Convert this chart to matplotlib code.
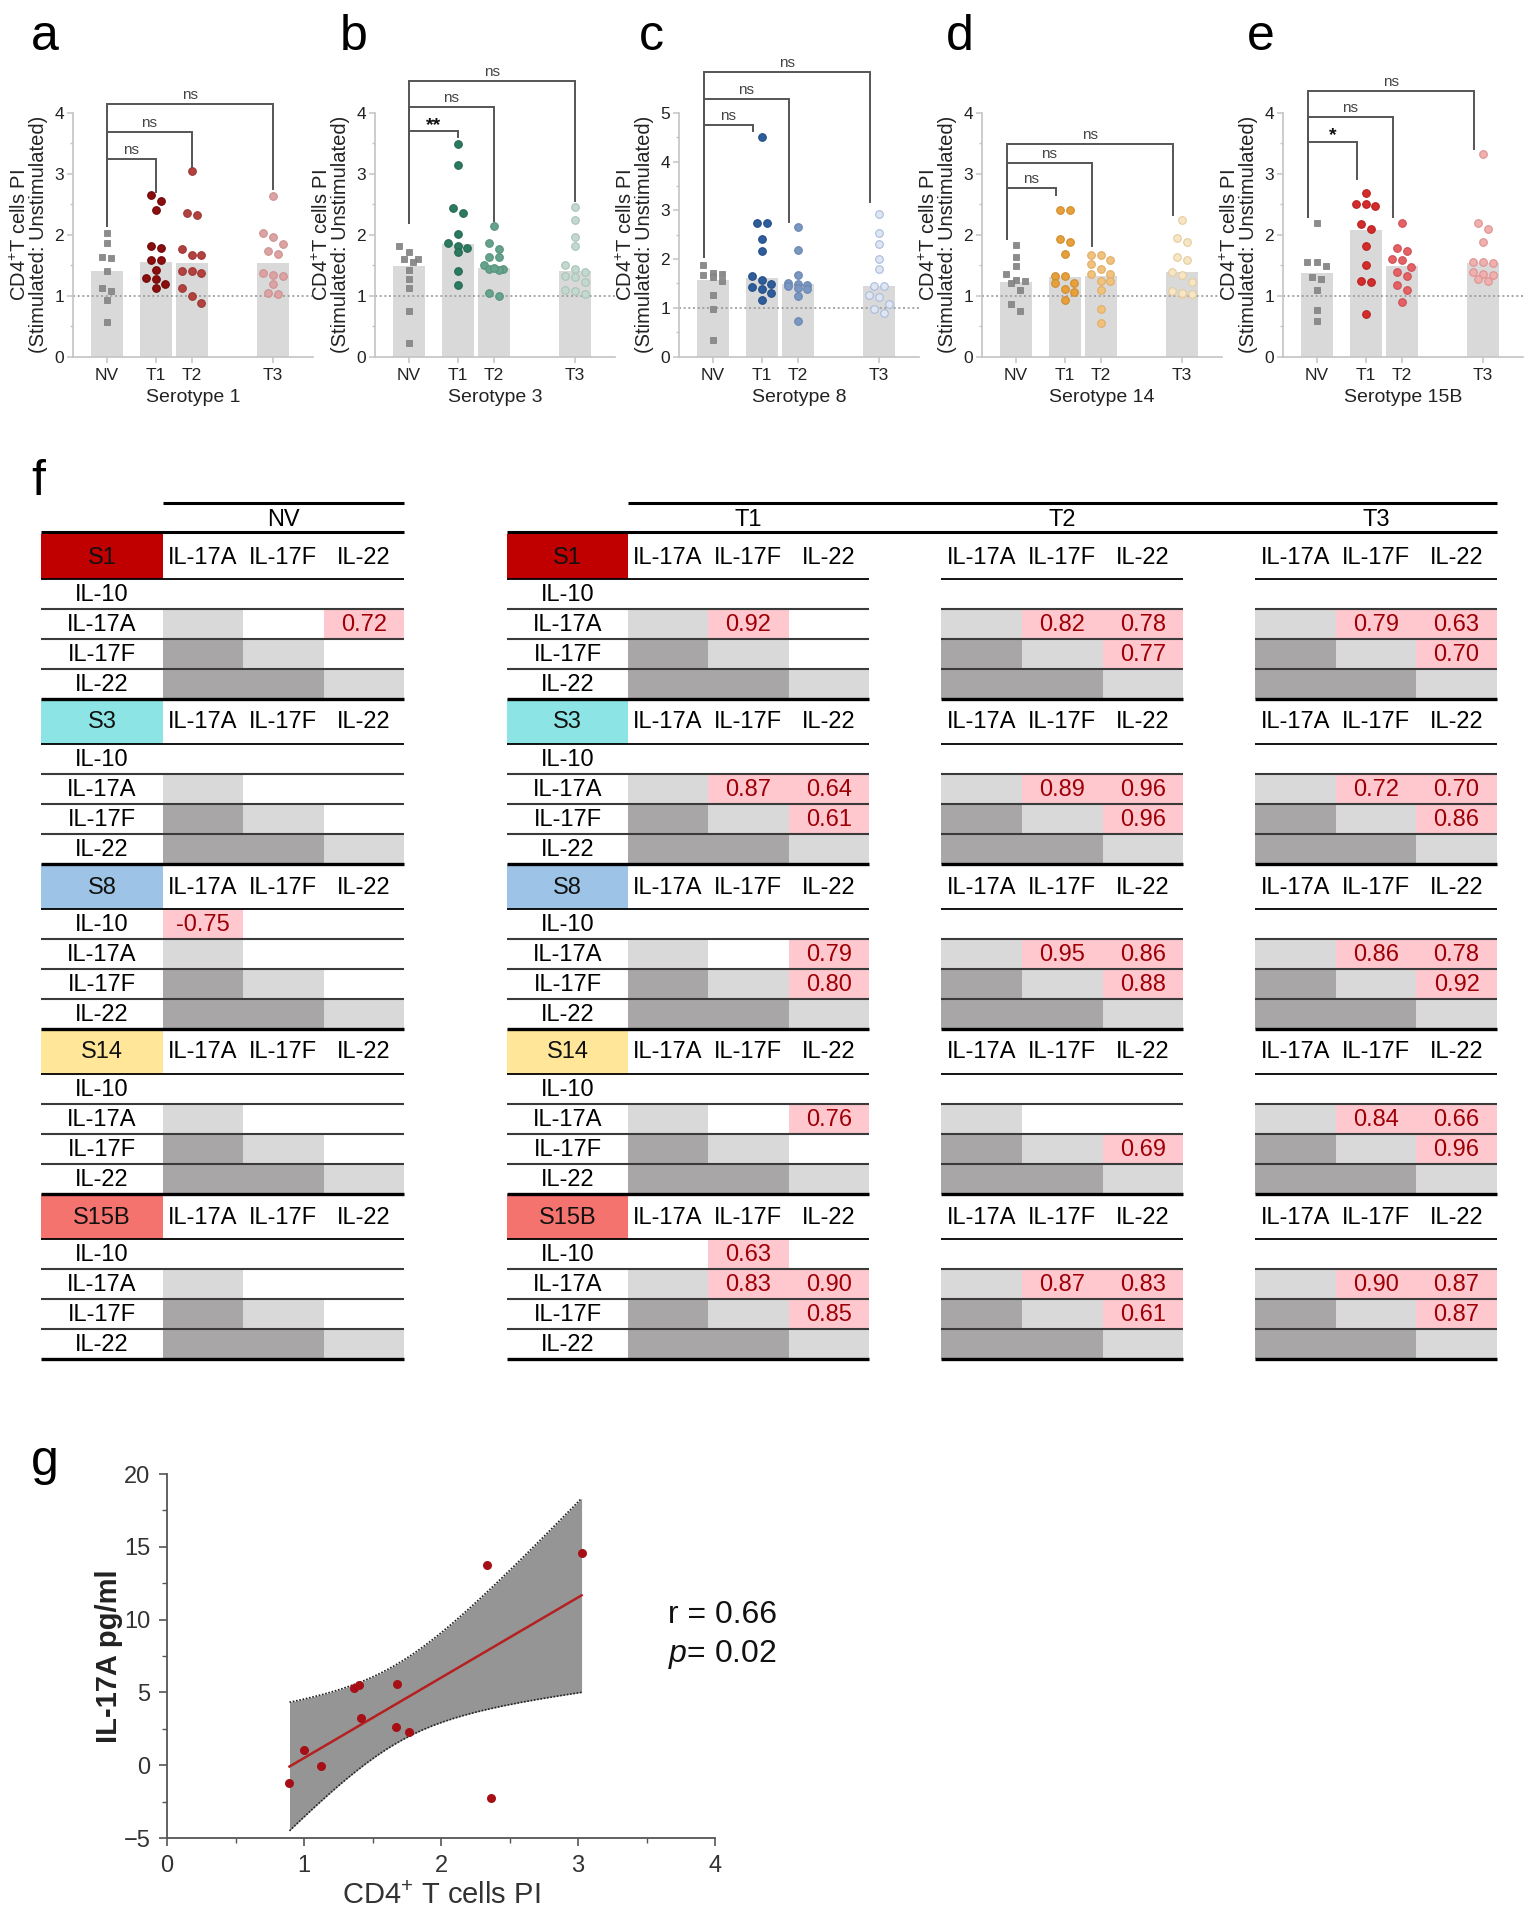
import numpy as np
import matplotlib
matplotlib.use('Agg')
import matplotlib.pyplot as plt
from matplotlib.patches import Rectangle
from matplotlib.ticker import MultipleLocator

plt.rcParams['font.family'] = ['Liberation Sans', 'DejaVu Sans']
plt.rcParams['mathtext.fontset'] = 'custom'
plt.rcParams['mathtext.rm'] = 'Liberation Sans'
plt.rcParams['mathtext.it'] = 'Liberation Sans:italic'
plt.rcParams['mathtext.bf'] = 'Liberation Sans:bold'

# ---------------- data: panels a-e ----------------
groups = ['NV', 'T1', 'T2', 'T3']
group_pos = [0.0, 1.23, 2.13, 4.16]

s1_NV = [2.03, 1.87, 1.64, 1.61, 1.41, 1.12, 1.08, 0.93, 0.56]
s1_T1 = [2.66, 2.55, 2.41, 1.82, 1.79, 1.58, 1.58, 1.42, 1.29, 1.27, 1.19, 1.12]
s1_T2 = [3.04, 2.36, 2.33, 1.77, 1.67, 1.67, 1.40, 1.37, 1.40, 1.12, 1.00, 0.88]
s1_T3 = [2.63, 2.03, 1.96, 1.84, 1.73, 1.68, 1.37, 1.33, 1.34, 1.19, 1.03, 1.04]
s1_bar = [1.40, 1.56, 1.53, 1.53]

s3_NV = [1.82, 1.72, 1.60, 1.60, 1.56, 1.42, 1.28, 1.12, 0.75, 0.22]
s3_T1 = [3.49, 3.15, 2.44, 2.35, 2.02, 1.87, 1.81, 1.79, 1.72, 1.40, 1.17]
s3_T2 = [2.15, 1.87, 1.77, 1.63, 1.63, 1.50, 1.44, 1.42, 1.44, 1.46, 1.05, 1.00]
s3_T3 = [2.45, 2.25, 1.96, 1.82, 1.50, 1.43, 1.38, 1.32, 1.30, 1.22, 1.10, 1.08, 1.03]
s3_bar = [1.48, 1.85, 1.45, 1.40]

s8_NV = [1.87, 1.72, 1.70, 1.68, 1.63, 1.55, 1.27, 0.97, 0.33]
s8_T1 = [4.50, 2.74, 2.74, 2.42, 2.16, 1.65, 1.57, 1.48, 1.42, 1.38, 1.30, 1.16]
s8_T2 = [2.65, 2.18, 1.68, 1.50, 1.47, 1.45, 1.49, 1.40, 1.38, 1.25, 0.72]
s8_T3 = [2.92, 2.53, 2.32, 2.00, 1.79, 1.45, 1.45, 1.27, 1.22, 1.07, 0.98, 0.90]
s8_bar = [1.58, 1.62, 1.48, 1.45]

s14_NV = [1.83, 1.63, 1.49, 1.36, 1.25, 1.24, 1.20, 1.10, 0.86, 0.74]
s14_T1 = [2.40, 2.40, 1.93, 1.88, 1.69, 1.33, 1.32, 1.21, 1.21, 1.11, 1.06, 0.93]
s14_T2 = [1.67, 1.67, 1.59, 1.52, 1.44, 1.35, 1.35, 1.24, 1.24, 1.10, 0.78, 0.55]
s14_T3 = [2.24, 1.94, 1.88, 1.63, 1.59, 1.38, 1.34, 1.22, 1.08, 1.02, 1.02, 1.05]
s14_bar = [1.23, 1.30, 1.33, 1.38]

s15_NV = [2.19, 1.55, 1.55, 1.49, 1.30, 1.28, 1.10, 0.76, 0.59]
s15_T1 = [2.68, 2.50, 2.47, 2.50, 2.18, 2.10, 1.82, 1.50, 1.24, 1.22, 0.70]
s15_T2 = [2.19, 1.78, 1.74, 1.60, 1.58, 1.47, 1.38, 1.33, 1.18, 1.09, 0.89]
s15_T3 = [3.32, 2.19, 2.10, 1.88, 1.56, 1.56, 1.54, 1.38, 1.36, 1.34, 1.28, 1.24]
s15_bar = [1.37, 2.08, 1.48, 1.53]

# brackets: (target group index, bracket height, right-leg bottom, label)
s1_brackets = [(1, 3.24, 2.70, 'ns'), (2, 3.68, 3.12, 'ns'), (3, 4.14, 2.75, 'ns')]
s3_brackets = [(1, 3.70, 3.60, '**'), (2, 4.10, 2.23, 'ns'), (3, 4.53, 2.56, 'ns')]
s8_brackets = [(1, 4.75, 4.64, 'ns'), (2, 5.29, 2.76, 'ns'), (3, 5.84, 3.17, 'ns')]
s14_brackets = [(1, 2.77, 2.66, 'ns'), (2, 3.18, 1.81, 'ns'), (3, 3.49, 2.33, 'ns')]
s15_brackets = [(1, 3.53, 2.92, '*'), (2, 3.93, 2.29, 'ns'), (3, 4.36, 3.41, 'ns')]
left_leg_bottom = [2.15, 2.20, 2.04, 1.93, 2.29]

serotype_names = ['Serotype 1', 'Serotype 3', 'Serotype 8', 'Serotype 14', 'Serotype 15B']
y_max = [4, 4, 5, 4, 4]

face_colors = [
    ['#8c8c8c', '#8b0d0d', '#b2423f', '#dba3a3'],
    ['#8c8c8c', '#2d7a60', '#66a38c', '#c3d8cf'],
    ['#8c8c8c', '#2e5d9c', '#7a97c2', '#dfe6f2'],
    ['#8c8c8c', '#e6a03c', '#f0c27e', '#f6e6c6'],
    ['#8c8c8c', '#d42b2b', '#e46266', '#efb0b0'],
]
edge_colors = [
    ['#7a7a7a', '#6e0808', '#9e3532', '#cf9090'],
    ['#7a7a7a', '#246a52', '#58927c', '#a9c4b8'],
    ['#7a7a7a', '#244d86', '#6885b2', '#a9bcdc'],
    ['#7a7a7a', '#d08c2c', '#e0ad66', '#e6cc9a'],
    ['#7a7a7a', '#b82020', '#cf5055', '#e09090'],
]

panels = [
    (s1_NV, s1_T1, s1_T2, s1_T3, s1_bar, s1_brackets),
    (s3_NV, s3_T1, s3_T2, s3_T3, s3_bar, s3_brackets),
    (s8_NV, s8_T1, s8_T2, s8_T3, s8_bar, s8_brackets),
    (s14_NV, s14_T1, s14_T2, s14_T3, s14_bar, s14_brackets),
    (s15_NV, s15_T1, s15_T2, s15_T3, s15_bar, s15_brackets),
]
bracket_shift = [0.0, 0.0, -0.22, -0.22, -0.22]

# ---------------- data: panel f ----------------
serotypes = ['S1', 'S3', 'S8', 'S14', 'S15B']
serotype_colors = ['#c00000', '#8de4e4', '#9dc3e6', '#ffe699', '#f4736e']
col_cytokines = ['IL-17A', 'IL-17F', 'IL-22']
row_cytokines = ['IL-10', 'IL-17A', 'IL-17F', 'IL-22']

corr_NV = {'S1': [('IL-17A', 'IL-22', 0.72)], 'S3': [],
           'S8': [('IL-10', 'IL-17A', -0.75)], 'S14': [], 'S15B': []}
corr_T1 = {'S1': [('IL-17A', 'IL-17F', 0.92)],
           'S3': [('IL-17A', 'IL-17F', 0.87), ('IL-17A', 'IL-22', 0.64), ('IL-17F', 'IL-22', 0.61)],
           'S8': [('IL-17A', 'IL-22', 0.79), ('IL-17F', 'IL-22', 0.80)],
           'S14': [('IL-17A', 'IL-22', 0.76)],
           'S15B': [('IL-10', 'IL-17F', 0.63), ('IL-17A', 'IL-17F', 0.83),
                    ('IL-17A', 'IL-22', 0.90), ('IL-17F', 'IL-22', 0.85)]}
corr_T2 = {'S1': [('IL-17A', 'IL-17F', 0.82), ('IL-17A', 'IL-22', 0.78), ('IL-17F', 'IL-22', 0.77)],
           'S3': [('IL-17A', 'IL-17F', 0.89), ('IL-17A', 'IL-22', 0.96), ('IL-17F', 'IL-22', 0.96)],
           'S8': [('IL-17A', 'IL-17F', 0.95), ('IL-17A', 'IL-22', 0.86), ('IL-17F', 'IL-22', 0.88)],
           'S14': [('IL-17F', 'IL-22', 0.69)],
           'S15B': [('IL-17A', 'IL-17F', 0.87), ('IL-17A', 'IL-22', 0.83), ('IL-17F', 'IL-22', 0.61)]}
corr_T3 = {'S1': [('IL-17A', 'IL-17F', 0.79), ('IL-17A', 'IL-22', 0.63), ('IL-17F', 'IL-22', 0.70)],
           'S3': [('IL-17A', 'IL-17F', 0.72), ('IL-17A', 'IL-22', 0.70), ('IL-17F', 'IL-22', 0.86)],
           'S8': [('IL-17A', 'IL-17F', 0.86), ('IL-17A', 'IL-22', 0.78), ('IL-17F', 'IL-22', 0.92)],
           'S14': [('IL-17A', 'IL-17F', 0.84), ('IL-17A', 'IL-22', 0.66), ('IL-17F', 'IL-22', 0.96)],
           'S15B': [('IL-17A', 'IL-17F', 0.90), ('IL-17A', 'IL-22', 0.87), ('IL-17F', 'IL-22', 0.87)]}
corr_tables = {'NV': corr_NV, 'T1': corr_T1, 'T2': corr_T2, 'T3': corr_T3}

# ---------------- data: panel g ----------------
g_x = [0.894, 1.00, 1.127, 1.368, 1.40, 1.413, 1.677, 1.673, 1.769, 2.334, 2.365, 3.026]
g_y = [-1.22, 1.01, -0.03, 5.28, 5.50, 3.21, 5.55, 2.61, 2.29, 13.72, -2.22, 14.59]
g_r_text = 'r = 0.66'
g_p_text = '$\\it{p}$= 0.02'

# ---------------- figure ----------------
W, H = 1535, 1917
fig = plt.figure(figsize=(W / 100, H / 100), dpi=100)
fig.patch.set_facecolor('white')


def fx(px):
    return px / W


def fy(py):
    return 1 - py / H


def swarm_offsets(vals, ypx, thr=7.5, step=0.24, maxk=3):
    vals = np.asarray(vals, float)
    order = np.argsort(-vals, kind='stable')
    offs = np.zeros(len(vals))
    clusters = []
    cur = [order[0]]
    for i in order[1:]:
        if abs(vals[i] - vals[cur[-1]]) * ypx < thr and len(cur) < maxk:
            cur.append(i)
        else:
            clusters.append(cur)
            cur = [i]
    clusters.append(cur)
    for cl in clusters:
        k = len(cl)
        for j, idx in enumerate(cl):
            offs[idx] = (j - (k - 1) / 2) * step
    return offs


# ---------- panel f table (drawn first, underneath) ----------
tab = fig.add_axes([0, 0, 1, 1])
tab.set_xlim(0, W)
tab.set_ylim(H, 0)
tab.axis('off')
tab.patch.set_visible(False)

grp_x0 = {'NV': 162.5, 'T1': 627.5, 'T2': 941.4, 'T3': 1255.1}
label_left = {'NV': 41.3, 'T1': 507.0}
col_w = 80.6
label_w = 121.2
header_h = 45.0
row_h = 30.0
block_h = header_h + 4 * row_h
table_top = 534.0
tfs = 17
light_gray = '#d9d9d9'
dark_gray = '#a8a6a6'
pink = '#ffc7ce'
val_color = '#9c0006'

nv_r = grp_x0['NV'] + 3 * col_w
t_r = grp_x0['T3'] + 3 * col_w
tab.plot([grp_x0['NV'], nv_r], [503.3, 503.3], color='black', lw=2.2, solid_capstyle='butt')
tab.plot([grp_x0['T1'], t_r], [503.3, 503.3], color='black', lw=2.2, solid_capstyle='butt')
tab.plot([label_left['NV'], nv_r], [532.5, 532.5], color='black', lw=2.2, solid_capstyle='butt')
tab.plot([label_left['T1'], t_r], [532.5, 532.5], color='black', lw=2.2, solid_capstyle='butt')
for g in groups:
    cx = grp_x0[g] + 1.5 * col_w
    tab.text(cx, 520.0, g, ha='center', va='center', fontsize=tfs)

for b, sero in enumerate(serotypes):
    y0 = table_top + b * block_h
    for g in groups:
        x0 = grp_x0[g]
        xr = x0 + 3 * col_w
        xl = label_left.get(g, x0)
        vals = {(r, c): v for (r, c, v) in corr_tables[g][sero]}
        for ri, rn in enumerate(row_cytokines):
            yr = y0 + header_h + ri * row_h
            for ci, cn in enumerate(col_cytokines):
                xc = x0 + ci * col_w
                if ri == ci + 1:
                    fc = light_gray
                elif ri > ci + 1:
                    fc = dark_gray
                elif (rn, cn) in vals:
                    fc = pink
                else:
                    fc = None
                if fc is not None:
                    tab.add_patch(Rectangle((xc, yr), col_w, row_h, facecolor=fc,
                                            edgecolor='none', zorder=1))
                if (rn, cn) in vals:
                    tab.text(xc + col_w / 2, yr + row_h / 2 + 1, f"{vals[(rn, cn)]:.2f}",
                             ha='center', va='center', fontsize=tfs, color=val_color, zorder=3)
            if g in label_left:
                tab.text(xl + label_w / 2, yr + row_h / 2 + 1, rn, ha='center', va='center',
                         fontsize=tfs, zorder=3)
        for ci, cn in enumerate(col_cytokines):
            tab.text(x0 + (ci + 0.5) * col_w, y0 + header_h / 2 + 1, cn, ha='center',
                     va='center', fontsize=tfs, zorder=3)
        if g in label_left:
            tab.add_patch(Rectangle((xl, y0), label_w, header_h, facecolor=serotype_colors[b],
                                    edgecolor='none', zorder=2))
            tab.text(xl + label_w / 2, y0 + header_h / 2 + 1, sero, ha='center', va='center',
                     fontsize=tfs, color='#111111', zorder=3)
        tab.plot([xl, xr], [y0 + header_h, y0 + header_h], color='black', lw=1.3,
                 zorder=4, solid_capstyle='butt')
        for ri in range(1, 4):
            yy = y0 + header_h + ri * row_h
            tab.plot([xl, xr], [yy, yy], color='#3a3a3a', lw=1.5, zorder=4,
                     solid_capstyle='butt')
        yy = y0 + block_h
        tab.plot([xl, xr], [yy, yy], color='black', lw=2.4, zorder=4, solid_capstyle='butt')

# ---------- panels a-e ----------
lefts_px = [73, 375, 679, 982, 1283]
ax_w_px = 240.0
ax_top_px = 113.0
ax_bot_px = 356.5
ax_h_px = ax_bot_px - ax_top_px
spine_c = '#c4c4c4'
for p, (nv, t1, t2, t3, bars, brackets) in enumerate(panels):
    ax = fig.add_axes([fx(lefts_px[p]), fy(ax_bot_px), ax_w_px / W, ax_h_px / H])
    ymax = y_max[p]
    ypx = ax_h_px / ymax
    ax.set_xlim(-0.84, 5.16)
    ax.set_ylim(0, ymax)
    ax.bar(group_pos, bars, width=0.8, color='#d9d9d9', zorder=1)
    ax.axhline(1, color='#9a9a9a', lw=1.2, ls=(0, (1.2, 1.6)), zorder=2)
    for gi, vals in enumerate([nv, t1, t2, t3]):
        offs = swarm_offsets(vals, ypx)
        xs = group_pos[gi] + offs
        if gi == 0:
            ax.scatter(xs, vals, marker='s', s=24, facecolor=face_colors[p][0],
                       edgecolor=edge_colors[p][0], linewidth=0.5, zorder=3)
        else:
            ax.scatter(xs, vals, marker='o', s=30, facecolor=face_colors[p][gi],
                       edgecolor=edge_colors[p][gi], linewidth=0.8, zorder=3)
    sh = bracket_shift[p]
    x0 = group_pos[0] + sh
    for (ti, h, rb, lab) in brackets:
        x1 = group_pos[ti] + sh
        ax.plot([x0, x0, x1, x1], [left_leg_bottom[p], h, h, rb], color='#555555',
                lw=1.4, clip_on=False, zorder=4, solid_joinstyle='miter')
        if lab == 'ns':
            ax.text((x0 + x1) / 2, h + 9 / ypx, lab, ha='center', va='center',
                    fontsize=11, color='#444444', clip_on=False)
        else:
            ax.text((x0 + x1) / 2, h + 6 / ypx, lab, ha='center', va='center',
                    fontsize=14, fontweight='bold', color='#111111', clip_on=False)
    for s in ['top', 'right']:
        ax.spines[s].set_visible(False)
    for s in ['left', 'bottom']:
        ax.spines[s].set_color(spine_c)
        ax.spines[s].set_linewidth(1.2)
    ax.set_xticks(group_pos)
    ax.set_xticklabels(groups)
    ax.set_yticks(range(0, ymax + 1))
    ax.yaxis.set_minor_locator(MultipleLocator(0.5))
    ax.tick_params(axis='both', which='major', length=4, width=1.1, color=spine_c,
                   labelsize=12.5, labelcolor='#222222', pad=2.5)
    ax.tick_params(axis='y', which='minor', length=2.5, width=1.0, color=spine_c)
    ax.tick_params(axis='x', pad=4.5)
    ax.set_ylabel('CD4$^{+}$T cells PI\n(Stimulated: Unstimulated)', fontsize=14.5,
                  color='#222222', linespacing=0.95)
    ax.yaxis.set_label_coords(-0.105, 0.5)
    ax.set_xlabel(serotype_names[p], fontsize=14, color='#222222')
    ax.xaxis.set_label_coords(0.5, -0.135)
    ax.patch.set_visible(False)

# ---------- panel g ----------
axg = fig.add_axes([fx(167), fy(1838), 548 / W, 364 / H])
gx = np.array(g_x)
gy = np.array(g_y)
n = len(gx)
slope, intercept = np.polyfit(gx, gy, 1)
xs = np.linspace(gx.min(), gx.max(), 200)
yhat = intercept + slope * xs
resid = gy - (intercept + slope * gx)
s_err = np.sqrt(np.sum(resid ** 2) / (n - 2))
sxx = np.sum((gx - gx.mean()) ** 2)
t_crit = 2.228  # t(0.975, df=10)
half = t_crit * s_err * np.sqrt(1 / n + (xs - gx.mean()) ** 2 / sxx)
axg.fill_between(xs, yhat - half, yhat + half, color='#959595', linewidth=0, zorder=1)
axg.plot(xs, yhat - half, color='#222222', lw=1.2, ls=(0, (1, 1)), zorder=2)
axg.plot(xs, yhat + half, color='#222222', lw=1.2, ls=(0, (1, 1)), zorder=2)
axg.plot(xs, yhat, color='#b52020', lw=1.8, zorder=3)
axg.scatter(gx, gy, s=42, color='#a50f15', zorder=4, linewidth=0)
axg.set_xlim(0, 4)
axg.set_ylim(-5, 20)
axg.set_xticks([0, 1, 2, 3, 4])
axg.set_yticks([-5, 0, 5, 10, 15, 20])
axg.xaxis.set_minor_locator(MultipleLocator(0.5))
axg.yaxis.set_minor_locator(MultipleLocator(2.5))
for s in ['top', 'right']:
    axg.spines[s].set_visible(False)
for s in ['left', 'bottom']:
    axg.spines[s].set_color('#555555')
    axg.spines[s].set_linewidth(1.3)
axg.tick_params(axis='both', which='major', length=6, width=1.2, color='#555555',
                labelsize=17, labelcolor='#333333', pad=6)
axg.tick_params(axis='both', which='minor', length=3.5, width=1.0, color='#555555')
axg.set_ylabel('IL-17A pg/ml', fontsize=21, fontweight='bold', color='#222222')
axg.yaxis.set_label_coords(-0.08, 0.5)
axg.set_xlabel('CD4$^{+}$ T cells PI', fontsize=21, color='#333333')
axg.xaxis.set_label_coords(0.5, -0.12)
axg.text(0.915, 0.613, g_r_text, transform=axg.transAxes, fontsize=23, va='center',
         ha='left', color='#111111')
axg.text(0.915, 0.505, g_p_text, transform=axg.transAxes, fontsize=23, va='center',
         ha='left', color='#111111')
axg.patch.set_visible(False)

# ---------- panel letters ----------
letter_pos = [('a', 31, 50), ('b', 340, 50), ('c', 639, 50), ('d', 946, 50),
              ('e', 1247, 50), ('f', 31, 495), ('g', 31, 1475)]
for lt, lx, ly in letter_pos:
    fig.text(fx(lx), fy(ly), lt, fontsize=36, ha='left', va='baseline', color='black')

fig.savefig('out.png', dpi=100, facecolor='white')
